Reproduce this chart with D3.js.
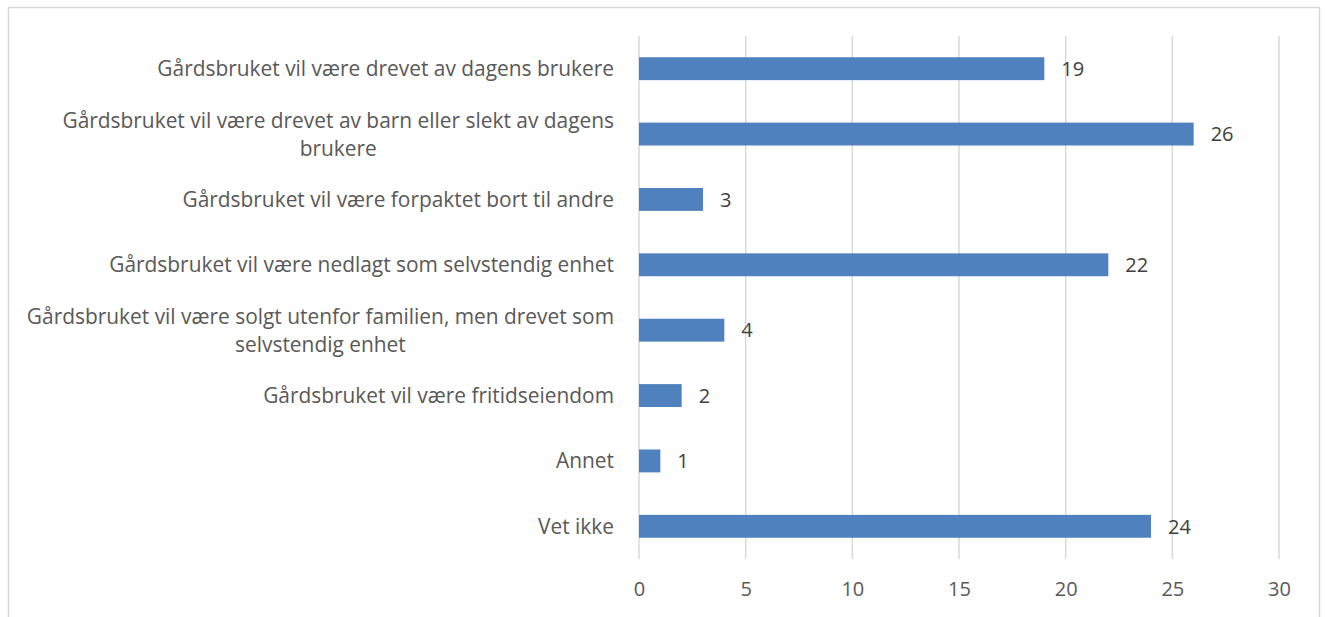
<!DOCTYPE html>
<html>
<head>
<meta charset="utf-8">
<script src="https://cdnjs.cloudflare.com/ajax/libs/d3/7.8.5/d3.min.js"></script>
<style>
    body { margin: 0; background: #fff; }
    svg { display: block; }
    text { font-family: "Open Sans", sans-serif; }
</style>
</head>
<body>
<svg width="1325" height="617"></svg>
<script>
    // data
    const categories = [
        "Gårdsbruket vil være drevet av dagens brukere",
        "Gårdsbruket vil være drevet av barn eller slekt av dagens brukere",
        "Gårdsbruket vil være forpaktet bort til andre",
        "Gårdsbruket vil være nedlagt som selvstendig enhet",
        "Gårdsbruket vil være solgt utenfor familien, men drevet som selvstendig enhet",
        "Gårdsbruket vil være fritidseiendom",
        "Annet",
        "Vet ikke"
    ];
    const values = [19, 26, 3, 22, 4, 2, 1, 24];
    const xTicks = [0, 5, 10, 15, 20, 25, 30];

    let svg = d3.select("svg"),
        width = +svg.attr("width"),
        height = +svg.attr("height");

    // outer chart frame
    svg.append("rect")
        .attr("x", 8.5).attr("y", 7.5)
        .attr("width", 1311).attr("height", 620)
        .attr("fill", "none")
        .attr("stroke", "#d9d9d9")
        .attr("stroke-width", 1.5);

    let x = d3.scaleLinear().domain([0, 30]).range([639, 1279]);
    let y = d3.scaleBand().domain(categories).range([36, 559]).padding(0);

    // gridlines
    svg.append("g")
        .selectAll("line")
        .data(xTicks)
        .enter().append("line")
        .attr("x1", d => x(d)).attr("x2", d => x(d))
        .attr("y1", 36).attr("y2", 559)
        .attr("stroke", "#d9d9d9")
        .attr("stroke-width", 1.5);

    // tick labels
    let xAxis = svg.append("g")
        .attr("transform", "translate(0,559)")
        .call(d3.axisBottom(x).tickValues(xTicks).tickSize(0).tickPadding(23));
    xAxis.select(".domain").remove();
    xAxis.selectAll("text")
        .attr("fill", "#595959")
        .style("font-size", "20px")
        .style("font-family", "'Open Sans', sans-serif");

    let barH = y.bandwidth() * 0.35;

    svg.append("g")
        .selectAll("rect")
        .data(values)
        .enter().append("rect")
        .attr("x", x(0))
        .attr("y", (d, i) => y(categories[i]) + (y.bandwidth() - barH) / 2)
        .attr("width", d => x(d) - x(0))
        .attr("height", barH)
        .attr("fill", "#4e81bd");

    // value labels
    svg.append("g")
        .selectAll("text")
        .data(values)
        .enter().append("text")
        .attr("x", d => x(d) + 17)
        .attr("y", (d, i) => y(categories[i]) + y.bandwidth() / 2)
        .attr("dy", "0.36em")
        .attr("fill", "#404040")
        .style("font-size", "20px")
        .text(d => d);

    // category labels, wrapped
    let maxW = 598;
    let lineH = 28;
    let labels = svg.append("g")
        .selectAll("text")
        .data(categories)
        .enter().append("text")
        .attr("text-anchor", "middle")
        .attr("fill", "#595959")
        .style("font-size", "20.9px");

    labels.each(function (d) {
        let t = d3.select(this);
        let words = d.split(" ");
        let lines = [];
        let cur = [];
        words.forEach(function (w) {
            cur.push(w);
            t.text(cur.join(" "));
            if (this_len(t) > maxW && cur.length > 1) {
                cur.pop();
                lines.push(cur.join(" "));
                cur = [w];
            }
        });
        lines.push(cur.join(" "));
        t.text(null);
        // right edge sits at 614, multi-line text is centred in its block
        let widths = lines.map(function (l) {
            t.text(l);
            return this_len(t);
        });
        t.text(null);
        let blockW = d3.max(widths);
        let cx = 614 - blockW / 2;
        let cy = y(d) + y.bandwidth() / 2 - (lines.length - 1) * lineH / 2;
        lines.forEach(function (l, i) {
            t.append("tspan")
                .attr("x", cx)
                .attr("y", cy + i * lineH)
                .attr("dy", "0.36em")
                .text(l);
        });
    });

    function this_len(sel) {
        return sel.node().getComputedTextLength();
    }
</script>
</body>
</html>
